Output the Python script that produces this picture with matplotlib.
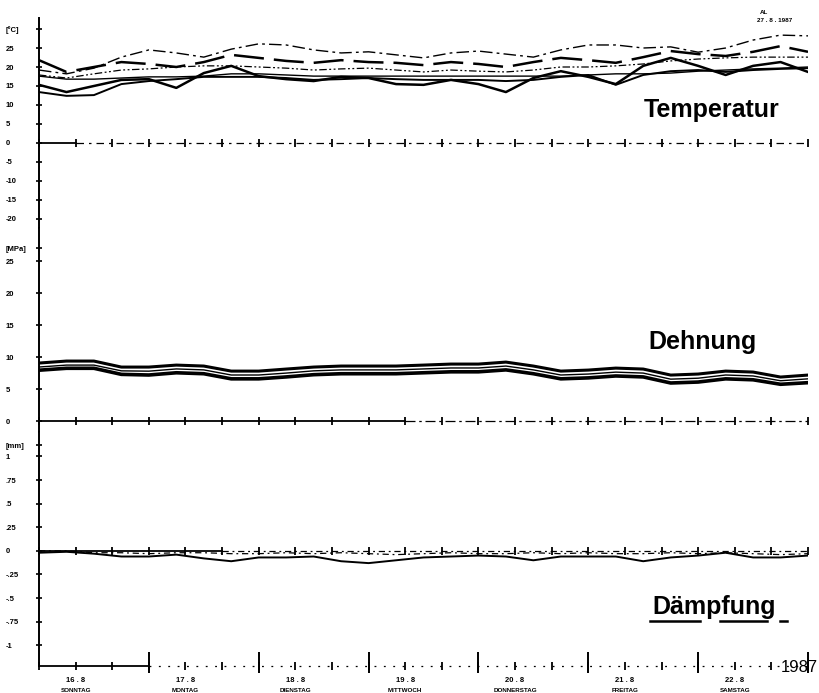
import numpy as np
import matplotlib.pyplot as plt
from matplotlib import transforms
from matplotlib.lines import Line2D

plt.rcParams['font.family'] = ['Liberation Sans', 'DejaVu Sans']

# hours since 16.8.1987 00:00, read every 6 h
hours = np.arange(0, 169, 6)

# Temperatur [°C]
temp_a = [19.2, 18.2, 19.7, 22.6, 24.5, 23.7, 22.6, 24.7, 26.1, 25.8, 24.5, 23.7, 24.0, 23.2, 22.4,
          23.7, 24.2, 23.4, 22.6, 24.5, 25.8, 25.8, 25.0, 25.3, 23.9, 25.0, 27.1, 28.4, 28.2]
temp_b = [21.8, 18.7, 20.0, 21.3, 20.8, 20.0, 21.3, 23.2, 22.4, 21.6, 21.1, 21.8, 21.3, 21.1, 20.5,
          21.3, 20.8, 20.0, 21.3, 22.4, 21.8, 21.1, 22.6, 24.2, 23.4, 22.9, 24.0, 25.5, 24.0]
temp_c = [17.9, 17.1, 18.2, 19.2, 19.5, 20.0, 20.3, 20.3, 20.0, 19.7, 19.2, 19.5, 19.7, 19.2, 18.7,
          19.2, 18.9, 18.7, 19.2, 20.0, 20.0, 20.3, 20.8, 21.6, 22.1, 22.4, 22.6, 22.6, 22.6]
temp_d = [17.6, 16.8, 16.8, 17.1, 17.4, 17.4, 17.6, 18.2, 18.2, 17.9, 17.6, 17.6, 17.6, 17.6, 17.6,
          17.6, 17.6, 17.6, 17.6, 17.6, 17.9, 18.2, 18.2, 18.4, 18.9, 19.2, 19.5, 19.7, 20.0]
temp_e = [15.3, 13.4, 15.0, 16.6, 16.8, 14.5, 18.4, 20.3, 17.6, 16.8, 16.3, 17.4, 17.1, 15.5, 15.3,
          16.6, 15.5, 13.4, 17.1, 18.9, 17.4, 15.5, 20.3, 22.4, 20.3, 17.9, 20.3, 21.3, 18.7]
temp_f = [13.4, 12.4, 12.6, 15.5, 16.3, 16.8, 17.4, 17.4, 17.4, 17.1, 16.6, 16.8, 17.1, 16.8, 16.6,
          16.6, 16.6, 16.3, 16.6, 17.4, 17.9, 15.3, 17.9, 18.9, 19.2, 18.7, 19.2, 19.5, 19.7]

# Dehnung
dehn_top = [9.07, 9.38, 9.38, 8.44, 8.44, 8.75, 8.60, 7.81, 7.81, 8.13, 8.44, 8.60, 8.60, 8.60, 8.75,
            8.91, 8.91, 9.22, 8.60, 7.81, 7.97, 8.28, 8.13, 7.19, 7.35, 7.81, 7.66, 6.88, 7.19]
dehn_mid = [8.45, 8.75, 8.75, 7.85, 7.80, 8.15, 8.00, 7.20, 7.20, 7.50, 7.85, 8.00, 8.00, 8.00, 8.15,
            8.30, 8.30, 8.60, 8.00, 7.20, 7.35, 7.65, 7.50, 6.55, 6.70, 7.20, 7.05, 6.30, 6.60]
dehn_bot = [7.95, 8.25, 8.25, 7.30, 7.20, 7.55, 7.40, 6.60, 6.60, 6.90, 7.25, 7.40, 7.40, 7.40, 7.55,
            7.70, 7.70, 8.00, 7.40, 6.60, 6.75, 7.05, 6.90, 5.95, 6.10, 6.60, 6.45, 5.75, 6.00]

# Daempfung
daempf_1 = [-0.02, -0.01, -0.03, -0.06, -0.06, -0.04, -0.08, -0.11, -0.07, -0.07, -0.06, -0.11, -0.13, -0.10, -0.07,
            -0.06, -0.05, -0.06, -0.10, -0.06, -0.06, -0.06, -0.11, -0.07, -0.05, -0.02, -0.07, -0.07, -0.05]
daempf_2 = [0.0, 0.0, -0.02, -0.02, -0.03, -0.02, -0.02, -0.03, -0.03, -0.02, -0.03, -0.02, -0.03, -0.04, -0.03,
            -0.02, -0.03, -0.03, -0.02, -0.03, -0.02, -0.03, -0.03, -0.02, -0.03, -0.02, -0.03, -0.04, -0.03]

day_labels = ["16 . 8", "17 . 8", "18 . 8", "19 . 8", "20 . 8", "21 . 8", "22 . 8"]
weekdays = ["SONNTAG", "MONTAG", "DIENSTAG", "MITTWOCH", "DONNERSTAG", "FREITAG", "SAMSTAG"]

temp_ticks = [30, 25, 20, 15, 10, 5, 0, -5, -10, -15, -20]
temp_ticklabels = ["[°C]", "25", "20", "15", "10", "5", "0", "-5", "-10", "-15", "-20"]
dehn_ticks = [27, 25, 20, 15, 10, 5, 0]
dehn_ticklabels = ["[MPa]", "25", "20", "15", "10", "5", "0"]
daempf_ticks = [1.12, 1, 0.75, 0.5, 0.25, 0, -0.25, -0.5, -0.75, -1]
daempf_ticklabels = ["[mm]", "1", ".75", ".5", ".25", "0", "-.25", "-.5", "-.75", "-1"]

fig = plt.figure(figsize=(8.19, 6.93), dpi=100)
ax1 = fig.add_axes([0.0476, 0.671, 0.939, 0.303])
ax2 = fig.add_axes([0.0476, 0.3766, 0.939, 0.2944])
ax3 = fig.add_axes([0.0476, 0.039, 0.939, 0.3377])

tick_hours = np.arange(0, 169, 8)


def setup(ax, ticks, labels, lim):
    for s in ['top', 'right', 'bottom']:
        ax.spines[s].set_visible(False)
    ax.spines['left'].set_linewidth(1.4)
    ax.set_xlim(0, 168)
    ax.set_ylim(*lim)
    ax.set_xticks([])
    ax.set_yticks(ticks)
    ax.set_yticklabels(labels)
    ax.tick_params(axis='y', direction='inout', length=4, width=1.2, pad=22,
                   labelsize=5.5)
    for t in ax.get_yticklabels():
        t.set_fontweight('bold')
        t.set_horizontalalignment('left')


def zero_line(ax, y, solid_to, ls):
    ax.plot([0, solid_to], [y, y], color='black', lw=1.3, clip_on=False)
    ax.plot([solid_to, 168], [y, y], color='black', lw=0.9, linestyle=ls, clip_on=False)
    ax.plot(tick_hours, [y] * len(tick_hours), linestyle='none', marker='|',
            ms=6, mew=1.3, color='black', clip_on=False)


# Temperatur
setup(ax1, temp_ticks, temp_ticklabels, (-22.4, 32.9))
zero_line(ax1, 0, 8, (0, (6, 4, 2, 4)))
ax1.plot(hours, temp_a, color='black', lw=1.0, dashes=(9, 3, 2, 3))
ax1.plot(hours, temp_b, color='black', lw=1.8, dashes=(12, 4))
ax1.plot(hours, temp_c, color='black', lw=0.9, dashes=(6, 2, 1.5, 2, 1.5, 2))
ax1.plot(hours, temp_d, color='black', lw=1.0)
ax1.plot(hours, temp_e, color='black', lw=1.8)
ax1.plot(hours, temp_f, color='black', lw=1.4)

# Dehnung
setup(ax2, dehn_ticks, dehn_ticklabels, (-1.72, 30.2))
zero_line(ax2, 0, 80, (0, (8, 3, 2, 3)))
ax2.plot(hours, dehn_top, color='black', lw=2.2)
ax2.plot(hours, dehn_mid, color='black', lw=1.0)
ax2.plot(hours, dehn_bot, color='black', lw=2.6)

# Daempfung
setup(ax3, daempf_ticks, daempf_ticklabels, (-1.22, 1.26))
zero_line(ax3, 0, 40, (0, (5, 3, 1.5, 3)))
ax3.plot(hours, daempf_2, color='black', lw=0.9, dashes=(5, 3, 1.5, 3))
ax3.plot(hours, daempf_1, color='black', lw=1.4)

# time axis at the bottom
zero_line(ax3, -1.22, 24, (0, (1.5, 6)))
day_hours = np.arange(24, 169, 24)
ax3.vlines(day_hours, -1.29, -1.07, color='black', lw=1.4, clip_on=False)
trans = transforms.blended_transform_factory(ax3.transData, fig.transFigure)
for i, (d, w) in enumerate(zip(day_labels, weekdays)):
    ax3.text(i * 24 + 8, 1 - 680 / 693, d, transform=trans, ha='center', va='center',
             fontsize=5.5, fontweight='bold')
    ax3.text(i * 24 + 8, 1 - 690 / 693, w, transform=trans, ha='center', va='center',
             fontsize=4.5, fontweight='bold')

# panel titles
fig.text(712 / 819, 1 - 110 / 693, "Temperatur", ha='center', va='center',
         fontsize=18, fontweight='bold')
fig.text(702 / 819, 1 - 342 / 693, "Dehnung", ha='center', va='center',
         fontsize=18, fontweight='bold')
fig.text(714 / 819, 1 - 607 / 693, "Dämpfung", ha='center', va='center',
         fontsize=18, fontweight='bold')
for x0, x1 in [(650, 700), (720, 767), (780, 787)]:
    fig.add_artist(Line2D([x0 / 819, x1 / 819], [1 - 621 / 693] * 2, color='black', lw=1.8))

fig.text(818 / 819, 1 - 667 / 693, "1987", ha='right', va='center', fontsize=12)
fig.text(760 / 819, 1 - 12 / 693, "AL", ha='left', va='center', fontsize=4.5, fontweight='bold')
fig.text(757 / 819, 1 - 20 / 693, "27 . 8 . 1987", ha='left', va='center', fontsize=4.5,
         fontweight='bold')

fig.savefig("out.png", dpi=100, facecolor='white')
